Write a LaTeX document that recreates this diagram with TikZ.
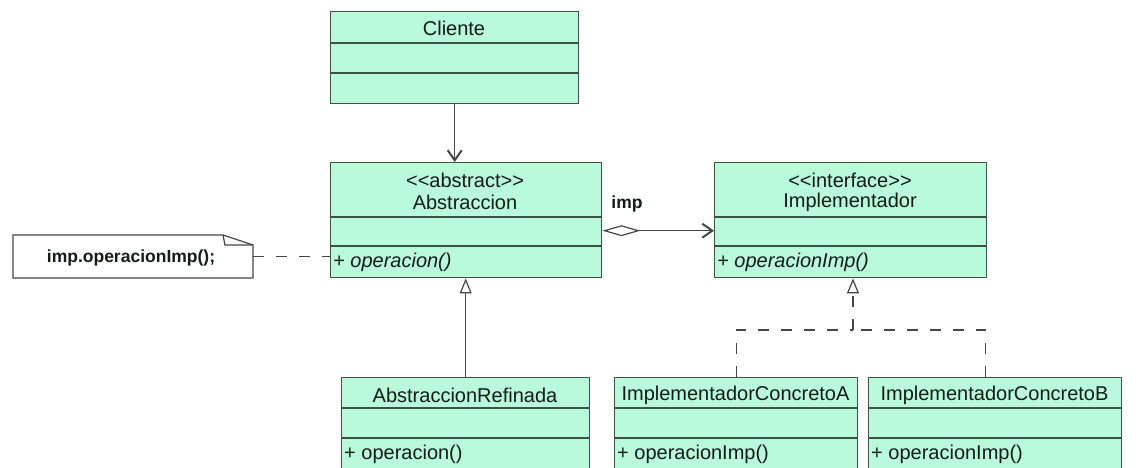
\documentclass[tikz,border=0pt]{standalone}
\usepackage{fontspec}
\setmainfont{Liberation Sans}
\usetikzlibrary{arrows.meta,calc}
\definecolor{mint}{RGB}{184,250,218}
\definecolor{edge}{RGB}{62,82,72}
\definecolor{ink}{RGB}{20,28,24}
\definecolor{wire}{RGB}{70,70,70}
\begin{document}
\begin{tikzpicture}[x=1pt,y=-1pt,
  box/.style={draw=edge,fill=mint,line width=1.4pt,anchor=north west,inner sep=0pt},
  div/.style={draw=edge,line width=1.4pt},
  lbl/.style={text=ink,inner sep=0pt,font=\fontsize{20}{24}\selectfont},
  attr/.style={lbl,anchor=west},
  small/.style={text=ink,inner sep=0pt,font=\bfseries\fontsize{17.5}{20}\selectfont},
  wirestyle/.style={draw=wire,line width=1.2pt},
  dashy/.style={wirestyle,dash pattern=on 11pt off 12pt},
  barb/.style={-{Straight Barb[length=10pt,width=14pt,line width=2pt]}},
  gen/.style={-{Triangle[open,fill=white,length=15pt,width=12pt,line width=1.2pt]}}
]
\useasboundingbox (0,0) rectangle (1138,468);
\clip (0,0) rectangle (1138,468);
\fill[white] (0,0) rectangle (1138,468);

% Cliente
\node[box,minimum width=248pt,minimum height=92pt] (cli) at (330,11) {};
\draw[div] ($(cli.north west)+(0,32)$) -- ($(cli.north east)+(0,32)$);
\draw[div] ($(cli.north west)+(0,62)$) -- ($(cli.north east)+(0,62)$);
\node[lbl] (tcli) at (454,28) {Cliente};

% Abstraccion
\node[box,minimum width=271pt,minimum height=115pt] (abs) at (330,162) {};
\draw[div] ($(abs.north west)+(0,55)$) -- ($(abs.north east)+(0,55)$);
\draw[div] ($(abs.north west)+(0,84)$) -- ($(abs.north east)+(0,84)$);
\node[lbl] (tabs1) at (465,180) {<\kern0pt<abstract>\kern0pt>};
\node[lbl] (tabs2) at (465,202) {Abstraccion};
\node[attr] (tabs3) at (333,262) {\itshape + operacion()};

% Implementador
\node[box,minimum width=272pt,minimum height=115pt] (imp) at (714,162) {};
\draw[div] ($(imp.north west)+(0,55)$) -- ($(imp.north east)+(0,55)$);
\draw[div] ($(imp.north west)+(0,84)$) -- ($(imp.north east)+(0,84)$);
\node[lbl] (timp1) at (850,180) {<\kern0pt<interface>\kern0pt>};
\node[lbl] (timp2) at (850,202) {Implementador};
\node[attr] (timp3) at (717,262) {\itshape + operacionImp()};

% AbstraccionRefinada
\node[box,minimum width=248pt,minimum height=100pt] (ref) at (341,377) {};
\draw[div] ($(ref.north west)+(0,31)$) -- ($(ref.north east)+(0,31)$);
\draw[div] ($(ref.north west)+(0,61)$) -- ($(ref.north east)+(0,61)$);
\node[lbl] (tref1) at (465,395) {AbstraccionRefinada};
\node[attr] (tref2) at (344,454) {+ operacion()};

% ImplementadorConcretoA
\node[box,minimum width=243pt,minimum height=100pt] (ca) at (614,377) {};
\draw[div] ($(ca.north west)+(0,31)$) -- ($(ca.north east)+(0,31)$);
\draw[div] ($(ca.north west)+(0,61)$) -- ($(ca.north east)+(0,61)$);
\node[lbl] (tca1) at (735.5,395) {ImplementadorConcretoA};
\node[attr] (tca2) at (617,454) {+ operacionImp()};

% ImplementadorConcretoB
\node[box,minimum width=253pt,minimum height=100pt] (cb) at (868,377) {};
\draw[div] ($(cb.north west)+(0,31)$) -- ($(cb.north east)+(0,31)$);
\draw[div] ($(cb.north west)+(0,61)$) -- ($(cb.north east)+(0,61)$);
\node[lbl] (tcb1) at (994.5,395) {ImplementadorConcretoB};
\node[attr] (tcb2) at (871,454) {+ operacionImp()};

% Note
\draw[draw=wire,fill=white,line width=1.2pt] (13,235) -- (223,235) -- (253,245) -- (253,278) -- (13,278) -- cycle;
\draw[draw=wire,line width=1.2pt] (223,235) -- (225,245) -- (253,245);
\node[inner sep=0pt,minimum width=240pt,minimum height=43pt] (note) at (133,256.5) {};
\node[small] (tnote) at (131,258) {imp.operacionImp();};
\draw[dashy] (note.east) -- (note.east -| abs.west);

% Connectors
\draw[wirestyle,barb] (cli.south) -- (cli.south |- abs.north);
\node[small] (limp) at (627,204) {imp};
\draw[wirestyle,{Diamond[open,fill=white,length=38pt,width=11pt,line width=1.2pt]}-{Straight Barb[length=10pt,width=14pt,line width=2pt]}]
  ([yshift=-10.5pt]abs.east) -- ([yshift=-10.5pt]imp.west);
\draw[wirestyle,gen] (ref.north) -- (ref.north |- abs.south);
\coordinate (j) at (853,330);
\draw[dashy] (ca.north) |- (j);
\draw[dashy] ([xshift=-9.5pt]cb.north) |- (j);
\draw[dashy,gen] (j) -- (j |- imp.south);
\end{tikzpicture}
\end{document}
